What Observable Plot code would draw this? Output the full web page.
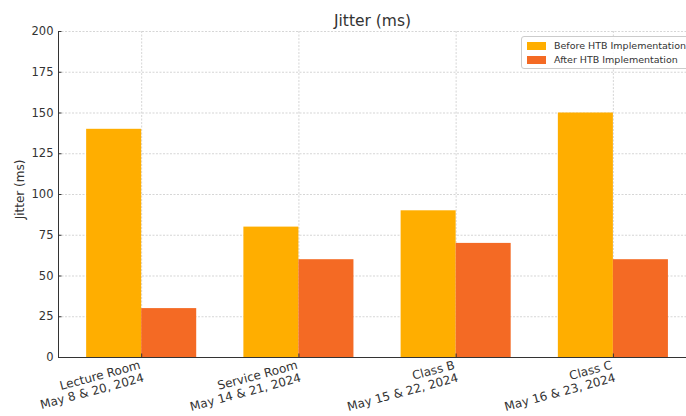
<!DOCTYPE html>
<html><head><meta charset="utf-8">
<script src="https://cdn.jsdelivr.net/npm/d3@7"></script>
<script src="https://cdn.jsdelivr.net/npm/@observablehq/plot@0.6"></script>
<style>
body{margin:0;background:#fff;font-family:"DejaVu Sans",sans-serif;}
#wrap{position:relative;width:686px;height:416px;overflow:hidden;}
#legend{position:absolute;left:521px;top:36px;width:180px;height:31px;border:1px solid #ccc;border-radius:3px;background:rgba(255,255,255,0.85);font-size:9.5px;color:#333;}
.row{position:absolute;left:5px;display:flex;align-items:center;white-space:nowrap;}
.sw{width:19px;height:8px;margin-right:8px;}
</style></head>
<body><div id="wrap"><div id="legend"></div></div>
<script>
const locations = ["Lecture Room\nMay 8 & 20, 2024", "Service Room\nMay 14 & 21, 2024", "Class B\nMay 15 & 22, 2024", "Class C\nMay 16 & 23, 2024"];
const before = [140, 80, 90, 150];
const after = [30, 60, 70, 60];
const seriesNames = ["Before HTB Implementation", "After HTB Implementation"];
const colors = ["#FFAE00", "#F46A24"];
const yTicks = [0, 25, 50, 75, 100, 125, 150, 175, 200];

const bars = [];
locations.forEach((loc, i) => {
  bars.push({i, x1: i - 0.35, x2: i, v: before[i], s: seriesNames[0]});
  bars.push({i, x1: i, x2: i + 0.35, v: after[i], s: seriesNames[1]});
});
const idx = locations.map((d, i) => i);
const xMin = -0.529;

const chart = Plot.plot({
  width: 686, height: 416,
  marginLeft: 58, marginRight: 0, marginTop: 31, marginBottom: 59,
  style: {fontFamily: "DejaVu Sans, sans-serif", fontSize: "11px", color: "#333"},
  x: {type: "linear", domain: [xMin, 3.465], axis: null},
  y: {type: "linear", domain: [0, 200], axis: null},
  color: {domain: seriesNames, range: colors},
  marks: [
    Plot.ruleY(yTicks.slice(1), {stroke: "#bbb", strokeWidth: 0.6, strokeDasharray: "2,1.5"}),
    Plot.ruleX(idx, {x: d => d, stroke: "#bbb", strokeWidth: 0.6, strokeDasharray: "2,1.5"}),
    Plot.rectY(bars, {x1: "x1", x2: "x2", y1: 0, y2: "v", fill: "s"}),
    Plot.axisY({ticks: yTicks, tickSize: 0, tickPadding: 5, fontSize: 11.5, label: null}),
    Plot.ruleY(yTicks, {y: d => d, x1: xMin, x2: xMin, insetRight: -3.5, stroke: "#333"}),
    Plot.ruleY([0], {stroke: "#333", strokeWidth: 1}),
    Plot.ruleX([xMin], {stroke: "#333", strokeWidth: 1}),
    Plot.ruleX(idx, {x: d => d, y1: 0, y2: 0, insetTop: -3.5, stroke: "#333"}),
    Plot.text(idx, {x: d => d, y: 0, text: d => locations[d], rotate: -15, textAnchor: "end", lineAnchor: "top", dy: 2, dx: -3, fontSize: 12, fill: "#333", lineHeight: 1.1}),
    Plot.text(["Jitter (ms)"], {frameAnchor: "left", textAnchor: "middle", dx: -38, dy: -5, rotate: -90, fontSize: 12, fill: "#333"}),
    Plot.text(["Jitter (ms)"], {frameAnchor: "top", dy: -17, fontSize: 15.5, fill: "#333"})
  ]
});
document.getElementById("wrap").prepend(chart);
const lg = document.getElementById("legend");
seriesNames.forEach((n, k) => {
  const r = document.createElement("div");
  r.className = "row"; r.style.top = (3 + k * 14) + "px";
  r.innerHTML = `<div class="sw" style="background:${colors[k]}"></div><span>${n}</span>`;
  lg.appendChild(r);
});
</script></body></html>
